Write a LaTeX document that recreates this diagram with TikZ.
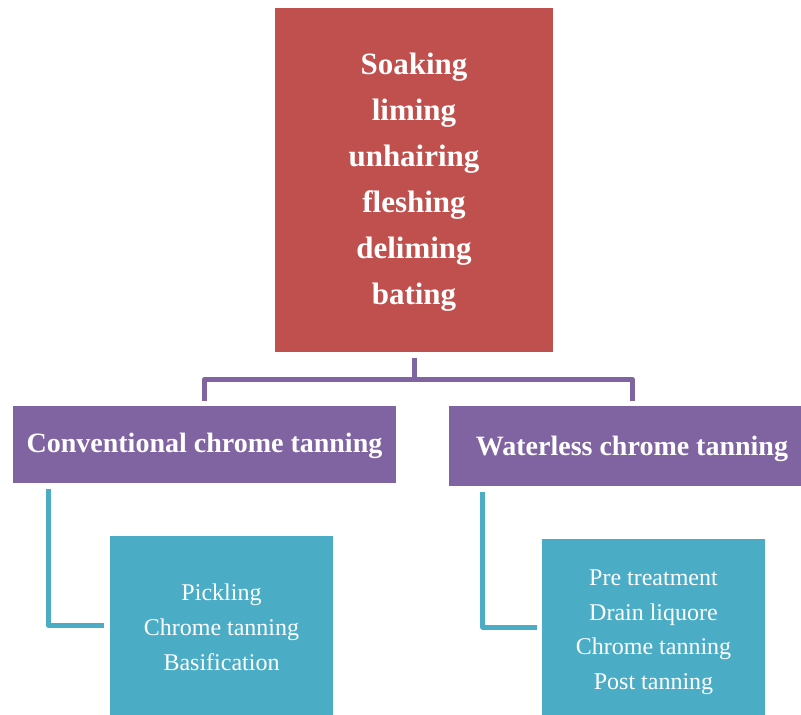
\documentclass[tikz,border=0pt]{standalone}
\usepackage{fontspec}
\setmainfont{Liberation Serif}
\definecolor{cred}{HTML}{C0504D}
\definecolor{cpurple}{HTML}{8064A2}
\definecolor{cteal}{HTML}{4BACC6}
\newcommand{\topstrut}[1]{\rule{0pt}{#1}}
\tikzset{
  box/.style={inner sep=0pt, align=center, text=white},
  redbox/.style={box, fill=cred, minimum width=278pt, minimum height=344pt,
    font=\fontsize{31}{46}\selectfont\bfseries},
  purplebox/.style={box, fill=cpurple, font=\fontsize{28}{34}\selectfont\bfseries},
  tealbox/.style={box, fill=cteal, minimum width=223pt},
  pline/.style={draw=cpurple, line width=5pt, line join=round},
  tline/.style={draw=cteal, line width=5pt, line join=round}
}
\begin{document}
\begin{tikzpicture}[x=1pt,y=-1pt]
\useasboundingbox (0,0) rectangle (801,715);
\node[redbox] (red) at (414,180) {\topstrut{25pt}Soaking\\liming\\unhairing\\fleshing\\deliming\\bating};
\node[purplebox, minimum width=383pt, minimum height=77pt] (pl) at (204.5,444.5) {\topstrut{23pt}Conventional chrome tanning};
\node[purplebox, minimum width=352pt, minimum height=80pt] (pr) at (625,446) {\topstrut{25pt}\hspace*{14pt}Waterless chrome tanning};
\node[tealbox, minimum height=179pt, font=\fontsize{24}{35}\selectfont] (tl) at (221.5,625.5) {\topstrut{20.5pt}Pickling\\Chrome tanning\\Basification};
\node[tealbox, minimum height=176pt, font=\fontsize{24}{34.5}\selectfont] (tr) at (653.5,627) {\topstrut{26.5pt}Pre treatment\\Drain liquore\\Chrome tanning\\Post tanning};
\draw[pline] ([yshift=-6pt]red.south) -- ([yshift=-27pt]red.south) -| ([yshift=5pt]pl.north);
\draw[pline] ([yshift=-27pt]red.south) -| ([xshift=7pt,yshift=5pt]pr.north);
\draw[tline] ([xshift=36pt,yshift=-6pt]pl.south west) |- ([xshift=-6pt]tl.west);
\draw[tline] ([xshift=34pt,yshift=-6pt]pr.south west) |- ([xshift=-5pt]tr.west);
\end{tikzpicture}
\end{document}
